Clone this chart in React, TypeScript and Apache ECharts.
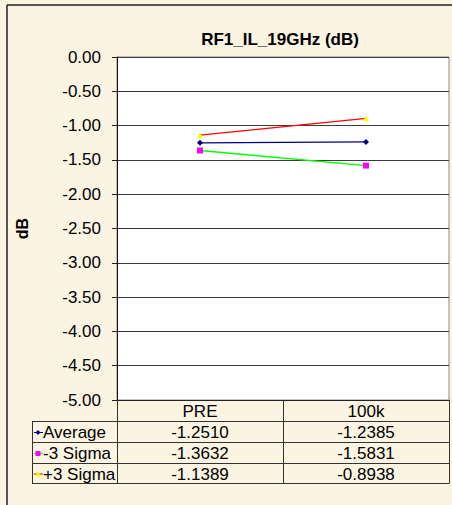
import React, { useEffect, useRef } from "react";
import * as echarts from "echarts";

const chartTitle = "RF1_IL_19GHz (dB)";
const yAxisName = "dB";
const categories = ["PRE", "100k"];
const seriesNames = ["Average", "-3 Sigma", "+3 Sigma"];
const averageValues = [-1.251, -1.2385];
const minus3SigmaValues = [-1.3632, -1.5831];
const plus3SigmaValues = [-1.1389, -0.8938];
const yMin = -5;
const yMax = 0;
const yInterval = 0.5;

const seriesValues = [averageValues, minus3SigmaValues, plus3SigmaValues];
const lineColors = ["#000080", "#00FF00", "#FF0000"];
const markerColors = ["#000080", "#FF00FF", "#FFFF00"];
const markerSymbols = ["diamond", "rect", "triangle"];
const markerSizes = [6, 6, 6];

const FONT = "Liberation Sans, Arial, sans-serif";
const W = 452;
const H = 505;
const GRID = { left: 117, top: 57, right: 3, bottom: 105 };
const ROW_LINES = [421.5, 442.5, 463.5, 483.5];
const TABLE_LEFT = 32;
const FS = 17;

export default function App() {
  const ref = useRef<HTMLDivElement>(null);
  useEffect(() => {
    if (!ref.current) return;
    const chart = echarts.init(ref.current, null, { renderer: "svg" });
    const option: any = {
      animation: false,
      backgroundColor: "#FCF4E2",
      grid: {
        ...GRID,
        show: true,
        backgroundColor: "#ffffff",
        borderColor: "#8a8a8a",
        borderWidth: 1,
      },
      xAxis: {
        type: "category",
        data: categories,
        boundaryGap: true,
        position: "bottom",
        axisLine: { show: true, onZero: false, lineStyle: { color: "#222", width: 1 } },
        axisTick: {
          show: true,
          inside: false,
          alignWithLabel: false,
          length: ROW_LINES[ROW_LINES.length - 1] - (H - GRID.bottom),
          lineStyle: { color: "#333", width: 1 },
        },
        axisLabel: {
          margin: 3,
          fontFamily: FONT,
          fontSize: FS,
          color: "#000",
        },
        splitLine: { show: false },
      },
      yAxis: {
        type: "value",
        min: yMin,
        max: yMax,
        interval: yInterval,
        name: yAxisName,
        nameLocation: "middle",
        nameGap: 87,
        nameRotate: 90,
        nameTextStyle: {
          fontFamily: FONT,
          fontSize: 16,
          fontWeight: "bold",
          color: "#000",
        },
        axisLine: { show: true, onZero: false, lineStyle: { color: "#111", width: 1 } },
        axisTick: { show: true, length: 5, lineStyle: { color: "#222" } },
        axisLabel: {
          margin: 16,
          fontFamily: FONT,
          fontSize: FS,
          color: "#000",
          formatter: (v: number) => v.toFixed(2),
        },
        splitLine: { show: true, lineStyle: { color: "#3a3a3a", width: 1 } },
      },
      series: seriesValues.map((vals, i) => ({
        name: seriesNames[i],
        type: "line",
        data: vals,
        symbol: markerSymbols[i],
        symbolSize: markerSizes[i],
        showSymbol: true,
        lineStyle: { color: lineColors[i], width: 1.3 },
        itemStyle: { color: markerColors[i], borderWidth: 0 },
      })),
    };
    chart.setOption(option);

    const graphics: any[] = [];
    // outer frame
    graphics.push({
      type: "line",
      shape: { x1: 7, y1: 5, x2: W, y2: 5 },
      style: { stroke: "#222", lineWidth: 1.5 },
      silent: true,
    });
    graphics.push({
      type: "line",
      shape: { x1: 7, y1: 5, x2: 7, y2: H },
      style: { stroke: "#222", lineWidth: 1.5 },
      silent: true,
    });
    // title
    graphics.push({
      type: "text",
      x: GRID.left + (W - GRID.left - GRID.right) / 2 - 3,
      y: 39.5,
      style: {
        text: chartTitle,
        fontFamily: FONT,
        fontSize: 17,
        fontWeight: "bold",
        fill: "#000",
        textAlign: "center",
        textVerticalAlign: "middle",
      },
    });
    // table horizontal lines
    ROW_LINES.forEach((y) => {
      graphics.push({
        type: "line",
        shape: { x1: TABLE_LEFT, y1: y, x2: W - GRID.right, y2: y },
        style: { stroke: "#333", lineWidth: 1 },
        silent: true,
      });
    });
    // table left border
    graphics.push({
      type: "line",
      shape: { x1: TABLE_LEFT + 0.5, y1: ROW_LINES[0], x2: TABLE_LEFT + 0.5, y2: ROW_LINES[ROW_LINES.length - 1] },
      style: { stroke: "#333", lineWidth: 1 },
      silent: true,
    });
    const colX = categories.map((c) => chart.convertToPixel({ xAxisIndex: 0 }, c) as number);
    seriesNames.forEach((name, i) => {
      const cy = (ROW_LINES[i] + ROW_LINES[i + 1]) / 2 + 0.5;
      // legend key
      graphics.push({
        type: "line",
        shape: { x1: TABLE_LEFT + 2, y1: cy, x2: TABLE_LEFT + 11, y2: cy },
        style: { stroke: lineColors[i], lineWidth: 1 },
        silent: true,
      });
      const mx = TABLE_LEFT + 6;
      if (markerSymbols[i] === "diamond") {
        graphics.push({
          type: "polygon",
          shape: { points: [[mx, cy - 2.5], [mx + 2.5, cy], [mx, cy + 2.5], [mx - 2.5, cy]] },
          style: { fill: markerColors[i] },
          silent: true,
        });
      } else if (markerSymbols[i] === "rect") {
        graphics.push({
          type: "rect",
          shape: { x: mx - 2.5, y: cy - 2.5, width: 5, height: 5 },
          style: { fill: markerColors[i] },
          silent: true,
        });
      } else {
        graphics.push({
          type: "polygon",
          shape: { points: [[mx, cy - 3], [mx + 3, cy + 2.5], [mx - 3, cy + 2.5]] },
          style: { fill: markerColors[i] },
          silent: true,
        });
      }
      graphics.push({
        type: "text",
        x: TABLE_LEFT + 11,
        y: cy,
        style: {
          text: name,
          fontFamily: FONT,
          fontSize: FS,
          fill: "#000",
          textAlign: "left",
          textVerticalAlign: "middle",
        },
      });
      seriesValues[i].forEach((v, j) => {
        graphics.push({
          type: "text",
          x: colX[j],
          y: cy,
          style: {
            text: v.toFixed(4),
            fontFamily: FONT,
            fontSize: FS,
            fill: "#000",
            textAlign: "center",
            textVerticalAlign: "middle",
          },
        });
      });
    });
    chart.setOption({ graphic: graphics });

    return () => chart.dispose();
  }, []);

  return (
    <div
      ref={ref}
      style={{ position: "absolute", left: 0, top: 0, width: W, height: H }}
    />
  );
}
